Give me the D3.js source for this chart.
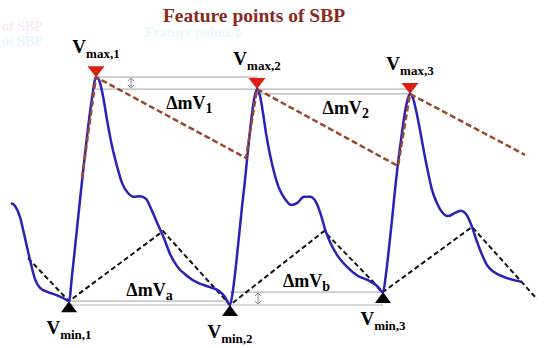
<!DOCTYPE html>
<html>
<head>
<meta charset="utf-8">
<script src="https://cdn.jsdelivr.net/npm/d3@7"></script>
<style>
  body { margin: 0; background: #fff; }
  text { font-family: "Liberation Serif", "Times New Roman", serif; font-weight: bold; }
</style>
</head>
<body>
<svg id="chart" width="550" height="348"></svg>
<script>
const width = 550,
      height = 348;

// SBP waveform (time in s, pressure in mmHg)
const time = [0.055, 0.075, 0.100, 0.125, 0.150, 0.175, 0.200, 0.240, 0.280, 0.315,
  0.345, 0.360, 0.380, 0.400, 0.420, 0.440, 0.460, 0.480, 0.495, 0.515,
  0.535, 0.560, 0.585, 0.610, 0.640, 0.670, 0.700, 0.730, 0.760, 0.790,
  0.820, 0.850, 0.885, 0.935, 0.990, 1.050, 1.095, 1.125, 1.150, 1.165,
  1.180, 1.195, 1.210, 1.225, 1.240, 1.255, 1.270, 1.285, 1.300, 1.315,
  1.330, 1.350, 1.370, 1.395, 1.425, 1.455, 1.485, 1.520, 1.550, 1.580,
  1.605, 1.625, 1.650, 1.685, 1.735, 1.790, 1.840, 1.880, 1.915, 1.930,
  1.945, 1.960, 1.975, 1.990, 2.005, 2.020, 2.035, 2.050, 2.065, 2.080,
  2.100, 2.120, 2.140, 2.160, 2.185, 2.210, 2.240, 2.275, 2.305, 2.330,
  2.355, 2.380, 2.405, 2.435, 2.470, 2.520, 2.570, 2.610];
const sbp = [99.1, 98.3, 95.1, 89.1, 82.9, 77.4, 74.9, 73.7, 72.9, 72.0,
  71.1, 78.3, 89.1, 100.0, 110.6, 120.6, 129.1, 135.1, 134.3, 129.7,
  122.9, 115.4, 109.7, 104.9, 102.0, 100.9, 101.1, 100.3, 96.9, 92.9,
  89.1, 84.6, 81.1, 78.3, 76.3, 75.1, 74.0, 72.3, 70.0, 74.3,
  81.4, 89.7, 98.0, 105.7, 114.3, 122.3, 128.6, 131.7, 129.7, 124.9,
  119.1, 112.9, 108.0, 103.4, 100.3, 98.6, 99.1, 100.9, 100.9, 99.4,
  95.7, 91.7, 88.0, 84.3, 80.9, 78.3, 77.1, 75.7, 73.7, 78.9,
  86.3, 94.3, 102.9, 110.6, 117.1, 123.4, 128.0, 130.3, 129.1, 125.7,
  120.0, 113.7, 108.0, 102.9, 99.1, 96.6, 95.4, 96.3, 96.9, 96.0,
  93.1, 88.9, 85.1, 81.4, 79.4, 78.0, 77.1, 76.6];

// feature points
const maxTime = [0.480, 1.285, 2.050];
const maxValue = [135.1, 131.7, 130.3];
const minTime = [0.345, 1.150, 1.915];
const minValue = [71.1, 70.0, 73.7];

// brown dashed line through the maxima
const maxLineTime = [0.410, 0.480, 1.230, 1.285, 1.990, 2.050, 2.625];
const maxLineValue = [106.3, 135.1, 112.0, 131.7, 109.7, 130.3, 112.9];

// black dashed line through the minima
const minLineTime = [0.140, 0.345, 0.815, 1.150, 1.620, 1.915, 2.360, 2.685];
const minLineValue = [83.4, 71.1, 91.1, 70.0, 91.1, 73.7, 92.3, 71.7];

const maxNames = ["max,1", "max,2", "max,3"];
const minNames = ["min,1", "min,2", "min,3"];
const deltaMaxNames = ["1", "2"];
const deltaMinNames = ["a", "b"];

const svg = d3.select("#chart");

const x = d3.scaleLinear().domain([0, 2.75]).range([0, width]);
const y = d3.scaleLinear().domain([60, 140]).range([340, 60]);

const wave = time.map((t, i) => ({ t, v: sbp[i] }));
const maxPts = maxTime.map((t, i) => ({ t, v: maxValue[i], name: maxNames[i] }));
const minPts = minTime.map((t, i) => ({ t, v: minValue[i], name: minNames[i] }));

// faint ghost text left over in the original figure
const ghost = svg.append("g").style("font-weight", "normal").style("font-size", "14px");
ghost.append("text").attr("x", 145).attr("y", 37).attr("fill", "#eaf8fc").text("Feature points o");
ghost.append("text").attr("x", 2).attr("y", 31).attr("fill", "#fbe9f6").text("of SBP");
ghost.append("text").attr("x", 2).attr("y", 46).attr("fill", "#e8f7fb").text("ot SBP");

// title
svg.append("text")
  .attr("x", 254)
  .attr("y", 22)
  .attr("text-anchor", "middle")
  .attr("fill", "#8a2a1c")
  .style("font-size", "19.5px")
  .text("Feature points of SBP");

// horizontal reference lines at each extreme level
function levelLines(pts) {
  svg.append("g").selectAll("line")
    .data(pts)
    .enter()
    .append("line")
    .attr("x1", (d, i) => x(pts[Math.max(i - 1, 0)].t))
    .attr("x2", (d, i) => x(pts[Math.min(i + 1, pts.length - 1)].t))
    .attr("y1", d => y(d.v))
    .attr("y2", d => y(d.v))
    .attr("stroke", "#b4b4b4")
    .attr("stroke-width", 1.2);
}
levelLines(maxPts);
levelLines(minPts);

// small double arrows
function doubleArrow(t, v1, v2) {
  const g = svg.append("g").attr("stroke", "#8c8c8c").attr("fill", "none").attr("stroke-width", 1);
  const ya = y(v1) + 1, yb = y(v2) - 1, xa = x(t);
  g.append("line").attr("x1", xa).attr("x2", xa).attr("y1", ya).attr("y2", yb);
  g.append("path").attr("d", `M${xa - 3},${ya + 3}L${xa},${ya}L${xa + 3},${ya + 3}`);
  g.append("path").attr("d", `M${xa - 3},${yb - 3}L${xa},${yb}L${xa + 3},${yb - 3}`);
}
doubleArrow(0.655, maxValue[0], maxValue[1]);
doubleArrow(1.29, minValue[2], minValue[1]);

// triangles
svg.append("g").selectAll("path")
  .data(maxPts)
  .enter()
  .append("path")
  .attr("d", d => {
    const px = x(d.t), py = y(d.v);
    return `M${px - 8.5},${py - 11}L${px + 8.5},${py - 11}L${px},${py}Z`;
  })
  .attr("fill", "#dd1f12");

svg.append("g").selectAll("path")
  .data(minPts)
  .enter()
  .append("path")
  .attr("d", d => {
    const px = x(d.t), py = y(d.v);
    return `M${px - 8},${py + 11}L${px + 8},${py + 11}L${px},${py}Z`;
  })
  .attr("fill", "#000");

const line = d3.line().x(d => x(d.t)).y(d => y(d.v));

// black dashed (minima)
svg.append("path")
  .datum(minLineTime.map((t, i) => ({ t, v: minLineValue[i] })))
  .attr("d", line)
  .attr("fill", "none")
  .attr("stroke", "#111")
  .attr("stroke-width", 2)
  .attr("stroke-dasharray", "5,3");

// blue waveform
svg.append("path")
  .datum(wave)
  .attr("d", d3.line().x(d => x(d.t)).y(d => y(d.v)).curve(d3.curveMonotoneX))
  .attr("fill", "none")
  .attr("stroke", "#2b20b8")
  .attr("stroke-width", 2.5)
  .attr("stroke-linejoin", "round");

// brown dashed (maxima)
svg.append("path")
  .datum(maxLineTime.map((t, i) => ({ t, v: maxLineValue[i] })))
  .attr("d", line)
  .attr("fill", "none")
  .attr("stroke", "#9a4a2a")
  .attr("stroke-width", 2.5)
  .attr("stroke-dasharray", "6,3");

// V labels
function vLabel(d, dy) {
  const t = svg.append("text")
    .attr("x", x(d.t))
    .attr("y", y(d.v) + dy)
    .attr("text-anchor", "middle")
    .style("font-size", "19px");
  t.append("tspan").text("V");
  t.append("tspan").attr("dy", 5).style("font-size", "13px").text(d.name);
}
maxPts.forEach(d => vLabel(d, -24));
minPts.forEach(d => vLabel(d, 33));

// delta labels
function deltaLabel(px, py, sub) {
  const t = svg.append("text")
    .attr("x", px)
    .attr("y", py)
    .attr("text-anchor", "middle")
    .style("font-size", "18px");
  t.append("tspan").text("\u0394mV");
  t.append("tspan").attr("dy", 4).style("font-size", "14px").text(sub);
}
deltaMaxNames.forEach((s, i) => {
  const a = x(maxTime[i]), b = x(maxTime[i + 1]);
  deltaLabel(a + 0.58 * (b - a), y(maxValue[i + 1]) + 20, s);
});
deltaMinNames.forEach((s, i) => {
  const a = x(minTime[i]), b = x(minTime[i + 1]);
  deltaLabel(a + 0.5 * (b - a), Math.min(y(minValue[i]), y(minValue[i + 1])) - 5, s);
});
</script>
</body>
</html>
